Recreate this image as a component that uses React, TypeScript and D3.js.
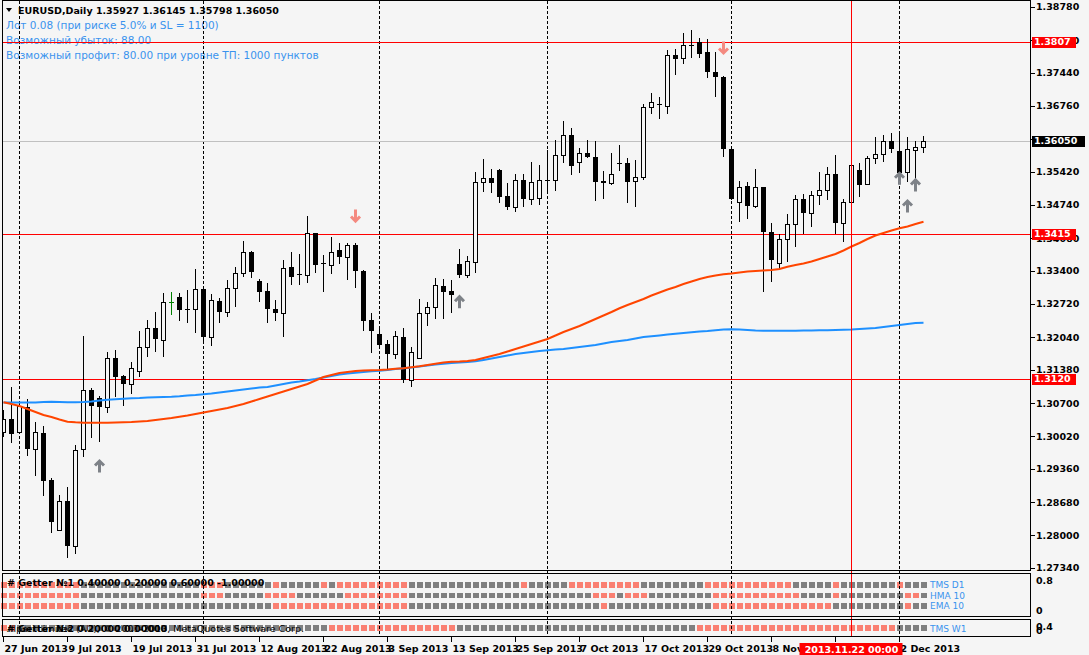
import React from "react";
import * as d3 from "d3";

// ---------- DATA ----------
const firstDay = new Date(2013, 5, 27);
const lastDay = new Date(2013, 11, 6);

const open = [
  1.30104, 1.30369, 1.30104, 1.30614, 1.29769, 1.3009, 1.29131, 1.28105, 1.28696, 1.27791,
  1.29757, 1.30961, 1.30797, 1.30614, 1.31613, 1.31252, 1.31083, 1.31348, 1.31838, 1.32226,
  1.31981, 1.32756, 1.32858, 1.32623, 1.32613, 1.33021, 1.32054, 1.32782, 1.32564, 1.33042,
  1.33348, 1.33788, 1.3319, 1.32986, 1.32619, 1.32531, 1.3347, 1.33327, 1.33319, 1.34163,
  1.33558, 1.33523, 1.33823, 1.33674, 1.33919, 1.33401, 1.32395, 1.32103, 1.31905, 1.31695,
  1.32042, 1.31171, 1.31613, 1.32531, 1.32666, 1.33088, 1.32986, 1.33531, 1.33323, 1.33572,
  1.35204, 1.35285, 1.35455, 1.34924, 1.34706, 1.35245, 1.34869, 1.3489, 1.35251, 1.35245,
  1.35755, 1.36169, 1.35612, 1.35796, 1.35714, 1.3523, 1.35184, 1.35598, 1.35591, 1.35236,
  1.35318, 1.36734, 1.36809, 1.36767, 1.37801, 1.37746, 1.38005, 1.3806, 1.37856, 1.37448,
  1.37346, 1.35877, 1.34808, 1.35122, 1.34727, 1.35102, 1.3419, 1.33551, 1.34041, 1.34347,
  1.34857, 1.34571, 1.34939, 1.35041, 1.35367, 1.34367, 1.34796, 1.35449, 1.35163, 1.35693,
  1.35775, 1.3604, 1.35836, 1.35408, 1.35863, 1.35927,
];
const high = [
  1.30559, 1.31022, 1.30702, 1.30777, 1.3032, 1.30232, 1.29178, 1.28825, 1.28982, 1.29845,
  1.32068, 1.31002, 1.30844, 1.31736, 1.31783, 1.31267, 1.31532, 1.3217, 1.32395, 1.32558,
  1.32946, 1.3296, 1.32946, 1.33007, 1.33429, 1.33048, 1.32919, 1.32844, 1.33211, 1.33482,
  1.34006, 1.33809, 1.33231, 1.33143, 1.32803, 1.33619, 1.33788, 1.33735, 1.34516, 1.34176,
  1.33721, 1.34082, 1.33972, 1.33972, 1.3396, 1.33415, 1.32531, 1.32258, 1.31987, 1.32177,
  1.32232, 1.3185, 1.32817, 1.32768, 1.33252, 1.33231, 1.33211, 1.33837, 1.337, 1.35408,
  1.35673, 1.35469, 1.35469, 1.35184, 1.35373, 1.35373, 1.35624, 1.35557, 1.35863, 1.36067,
  1.36448, 1.36305, 1.35897, 1.36061, 1.36046, 1.35441, 1.35796, 1.35965, 1.35693, 1.35659,
  1.36795, 1.3702, 1.3695, 1.37903, 1.37917, 1.38244, 1.38311, 1.38154, 1.38127, 1.37852,
  1.37372, 1.35897, 1.35224, 1.3521, 1.35475, 1.35108, 1.3438, 1.34143, 1.34557, 1.34945,
  1.34959, 1.35026, 1.35408, 1.35522, 1.35761, 1.34869, 1.35567, 1.35591, 1.35747, 1.36134,
  1.36169, 1.36204, 1.36183, 1.36122, 1.3604, 1.36145,
];
const low = [
  1.30014, 1.29892, 1.3009, 1.2962, 1.29212, 1.28804, 1.28056, 1.2809, 1.27546, 1.27627,
  1.29606, 1.29982, 1.29912, 1.30504, 1.30818, 1.30647, 1.30879, 1.31238, 1.31634, 1.31748,
  1.31646, 1.32503, 1.32381, 1.3234, 1.32124, 1.31952, 1.31871, 1.32328, 1.3245, 1.32654,
  1.33266, 1.33258, 1.32756, 1.32328, 1.32381, 1.32042, 1.33103, 1.33103, 1.33143, 1.33348,
  1.32972, 1.33333, 1.33537, 1.33211, 1.33042, 1.32177, 1.31728, 1.31817, 1.31375, 1.31605,
  1.31116, 1.31034, 1.31599, 1.32272, 1.32421, 1.32421, 1.32531, 1.33252, 1.33245, 1.3336,
  1.35, 1.3498, 1.34776, 1.34639, 1.34604, 1.34706, 1.34741, 1.34741, 1.35026, 1.35026,
  1.35604, 1.35353, 1.354, 1.357, 1.34829, 1.34857, 1.35149, 1.35441, 1.34776, 1.34706,
  1.35251, 1.36591, 1.36489, 1.36597, 1.37393, 1.37617, 1.37733, 1.37733, 1.37338, 1.3695,
  1.35726, 1.34843, 1.344, 1.34455, 1.34673, 1.3296, 1.33164, 1.33429, 1.33584, 1.3389,
  1.34155, 1.34298, 1.34741, 1.34843, 1.34155, 1.3398, 1.34604, 1.34898, 1.35149, 1.35571,
  1.35624, 1.35796, 1.35184, 1.35216, 1.35251, 1.35798,
];
const close = [
  1.30369, 1.30063, 1.3064, 1.29769, 1.30104, 1.29117, 1.2828, 1.28696, 1.27791, 1.29737,
  1.30961, 1.30647, 1.30614, 1.31613, 1.31238, 1.31083, 1.3141, 1.31838, 1.32226, 1.32001,
  1.32756, 1.32756, 1.32605, 1.32607, 1.33021, 1.32054, 1.32803, 1.32564, 1.33042, 1.33348,
  1.33788, 1.33374, 1.32972, 1.32613, 1.32531, 1.33449, 1.33266, 1.33311, 1.34163, 1.33523,
  1.33541, 1.33776, 1.33674, 1.33919, 1.33388, 1.32381, 1.32177, 1.31891, 1.31695, 1.32062,
  1.31171, 1.31748, 1.32531, 1.32654, 1.33103, 1.32966, 1.32905, 1.33313, 1.33592, 1.35204,
  1.35285, 1.35196, 1.3491, 1.34706, 1.35245, 1.34869, 1.3521, 1.35245, 1.35235, 1.35761,
  1.36169, 1.35543, 1.35796, 1.35714, 1.35216, 1.35184, 1.35373, 1.35581, 1.35216, 1.35318,
  1.36734, 1.36836, 1.36793, 1.37801, 1.37725, 1.38005, 1.37993, 1.37827, 1.37448, 1.37342,
  1.35877, 1.34857, 1.35114, 1.34727, 1.35102, 1.34184, 1.33625, 1.34041, 1.34347, 1.34857,
  1.34571, 1.34939, 1.35041, 1.35367, 1.34367, 1.34796, 1.35551, 1.35143, 1.35693, 1.35775,
  1.3604, 1.35889, 1.354, 1.35877, 1.35918, 1.3605,
];
const maSlow = [
  1.30716, 1.30681, 1.3064, 1.30579, 1.30518, 1.30457, 1.30416, 1.30365, 1.3032, 1.30308,
  1.303, 1.303, 1.303, 1.303, 1.30304, 1.30308, 1.30314, 1.30324, 1.30334, 1.30355,
  1.30375, 1.30396, 1.30422, 1.30447, 1.30477, 1.30508, 1.30538, 1.30569, 1.306, 1.3064,
  1.30681, 1.30732, 1.30783, 1.30834, 1.30885, 1.30936, 1.30987, 1.31038, 1.31089, 1.31161,
  1.31232, 1.31273, 1.31314, 1.31334, 1.31354, 1.31365, 1.31369, 1.31375, 1.31385, 1.31399,
  1.31409, 1.3143, 1.3145, 1.31477, 1.31503, 1.31528, 1.31544, 1.31548, 1.31558, 1.31579,
  1.3162, 1.3166, 1.31701, 1.31752, 1.31803, 1.31854, 1.31905, 1.31956, 1.32007, 1.32079,
  1.3215, 1.32211, 1.32272, 1.32344, 1.32415, 1.32487, 1.32558, 1.32634, 1.32701, 1.32762,
  1.32823, 1.32895, 1.32956, 1.33017, 1.33068, 1.33129, 1.3318, 1.33231, 1.33272, 1.33303,
  1.33327, 1.33343, 1.33364, 1.33384, 1.33394, 1.33405, 1.33415, 1.33435, 1.33482, 1.33517,
  1.33547, 1.33588, 1.33639, 1.3369, 1.33741, 1.33813, 1.33894, 1.33966, 1.34047, 1.34119,
  1.3417, 1.34221, 1.34266, 1.34302, 1.34353, 1.344,
];
const maLong = [
  1.30712, 1.30712, 1.30712, 1.30712, 1.30712, 1.30722, 1.30728, 1.30722, 1.30716, 1.30716,
  1.30722, 1.30732, 1.30753, 1.30769, 1.30777, 1.30787, 1.30798, 1.30804, 1.30814, 1.3082,
  1.30824, 1.3083, 1.3084, 1.30855, 1.30865, 1.30879, 1.30895, 1.30916, 1.30936, 1.30957,
  1.30977, 1.30997, 1.31018, 1.31028, 1.31059, 1.31089, 1.3112, 1.3114, 1.31165, 1.31191,
  1.31222, 1.31252, 1.31283, 1.31303, 1.31318, 1.31334, 1.31348, 1.31361, 1.31375, 1.31395,
  1.3141, 1.31426, 1.31446, 1.31467, 1.31487, 1.31503, 1.31518, 1.31528, 1.31538, 1.31552,
  1.31579, 1.31609, 1.3164, 1.31671, 1.31701, 1.31722, 1.31742, 1.31762, 1.31777, 1.31793,
  1.31803, 1.31824, 1.31844, 1.31864, 1.31885, 1.31915, 1.31946, 1.31966, 1.31987, 1.32017,
  1.32048, 1.32062, 1.32079, 1.32099, 1.32115, 1.3213, 1.32144, 1.3216, 1.3217, 1.32185,
  1.32201, 1.32205, 1.32201, 1.32191, 1.32181, 1.32177, 1.32177, 1.32177, 1.32177, 1.32177,
  1.32181, 1.32181, 1.32185, 1.32185, 1.32191, 1.32197, 1.32201, 1.32211, 1.32221, 1.32232,
  1.32252, 1.32272, 1.32293, 1.32313, 1.32334, 1.3234,
];

const priceTicks = [
  1.3878, 1.381, 1.3744, 1.3676, 1.3608, 1.3542, 1.3474, 1.3406, 1.334,
  1.3272, 1.3204, 1.3138, 1.307, 1.3002, 1.2936, 1.2868, 1.28, 1.2734,
];
const levelLines = [1.3807, 1.3415, 1.312];
const bidPrice = 1.3605;
const crossBar = 106;
const dateTickStep = 8;

const upArrowBars = [12, 57, 112, 113, 114];
const upArrowPrices = [1.29416, 1.32768, 1.35286, 1.3472, 1.35149];
const downArrowBars = [44, 90];
const downArrowPrices = [1.34516, 1.37944];

// run-length signals: [count, 1 = up (salmon) / 0 = down (grey)]
const tmsD1Runs = [[10, 1], [15, 0], [3, 1], [6, 0], [1, 1], [5, 0], [1, 1], [1, 0], [9, 1], [14, 0], [1, 1], [5, 0], [9, 1], [8, 0], [11, 1], [5, 0], [1, 1], [7, 0], [1, 1], [3, 0]];
const hma10Runs = [[10, 1], [15, 0], [3, 1], [5, 0], [4, 1], [6, 0], [8, 1], [23, 0], [3, 1], [1, 0], [3, 1], [8, 0], [11, 1], [4, 0], [1, 1], [8, 0], [2, 1], [1, 0]];
const ema10Runs = [[10, 1], [24, 0], [17, 1], [24, 0], [1, 1], [13, 0], [15, 1], [9, 0], [1, 1], [2, 0]];
const tmsW1Runs = [[2, 1], [39, 0], [16, 1], [30, 0], [25, 1], [4, 0]];
const panel1Names = ["TMS D1", "HMA 10", "EMA 10"];
const panel2Names = ["TMS W1"];

const headerText = "EURUSD,Daily  1.35927 1.36145 1.35798 1.36050";
const infoLines = [
  "Лот 0.08 (при риске 5.0% и SL = 1100)",
  "Возможный убыток: 88.00",
  "Возможный профит: 80.00 при уровне ТП: 1000 пунктов",
];
const panel1Title = "# Getter №1 0.40000 0.20000 0.60000 -1.00000";
const panel2Title = "# Getter №2 0.20000 0.00000";
const copyrightText = "Alpari Limited (AU), © 2001-2013, MetaQuotes Software Corp.";
const panel1Scale = ["0.8", "0"];
const panel2Scale = ["0.4", "0"];

// ---------- LAYOUT ----------
const W = 1089;
const H = 655;
const L = 2.5;
const R = 1030.5;
const BG = "#F5F5F5";
const SALMON = "#FA8072";
const GREY = "#808080";
const BLUE_TXT = "#3A93EE";
const FONT = "'DejaVu Sans', Verdana, sans-serif";

const expand = (runs: number[][]) => runs.flatMap(([n, v]) => Array(n).fill(v));

export default function App() {
  const days = d3.timeDay
    .range(firstDay, lastDay)
    .filter((d) => d.getDay() !== 0 && d.getDay() !== 6);
  const n = open.length;
  const x = d3.scaleLinear().domain([0, n - 1]).range([3.5, 3.5 + 8 * (n - 1)]);
  const y = d3.scaleLinear().domain([1.2734, 1.3878]).range([567.8, 7.0]);

  const fmtTick = d3.timeFormat("%-d %b %Y");
  const fmtCross = d3.timeFormat("%Y.%m.%d %H:%M");
  const fmt5 = d3.format(".5f");
  const fmt4 = d3.format(".4f");

  const monthStarts = days
    .map((d, i) => (i > 0 && d.getMonth() !== days[i - 1].getMonth() ? i : -1))
    .filter((i) => i >= 0);

  const line = (vals: number[]) =>
    d3.line<number>().x((_, i) => x(i)).y((v) => y(v))(vals) || "";

  const rows1 = [tmsD1Runs, hma10Runs, ema10Runs].map(expand);
  const rows2 = [tmsW1Runs].map(expand);
  const rows1Y = [582, 592.5, 603];
  const rows2Y = [625];

  const upPath = (cx: number, cy: number) =>
    `M${cx - 4.5},${cy - 0.5} L${cx},${cy - 5} L${cx + 4.5},${cy - 0.5} M${cx},${cy - 4} L${cx},${cy + 6.5}`;
  const downPath = (cx: number, cy: number) =>
    `M${cx - 4.5},${cy + 0.5} L${cx},${cy + 5} L${cx + 4.5},${cy + 0.5} M${cx},${cy + 4} L${cx},${cy - 6.5}`;

  const tickIdx = d3.range(0, n, dateTickStep);

  return (
    <svg
      width={W}
      height={H}
      style={{ position: "absolute", left: 0, top: 0, display: "block", fontFamily: FONT }}
    >
      <defs>
        <clipPath id="clipMain">
          <rect x={3} y={1} width={R - 3} height={569} />
        </clipPath>
      </defs>
      <rect x={0} y={0} width={W} height={H} fill={BG} />

      {/* info texts */}
      <g fontSize={10.5} fill={BLUE_TXT}>
        {infoLines.map((t, i) => (
          <text key={i} x={6} y={28.5 + i * 15}>
            {t}
          </text>
        ))}
      </g>

      {/* panel squares */}
      {rows1.map((row, r) =>
        row.map((v, i) => (
          <rect
            key={`p1-${r}-${i}`}
            x={x(i) - 2.5}
            y={rows1Y[r]}
            width={6}
            height={5.5}
            fill={v ? SALMON : GREY}
            shapeRendering="crispEdges"
          />
        ))
      )}
      {rows2.map((row, r) =>
        row.map((v, i) => (
          <rect
            key={`p2-${r}-${i}`}
            x={x(i) - 2.5}
            y={rows2Y[r]}
            width={6}
            height={5.5}
            fill={v ? SALMON : GREY}
            shapeRendering="crispEdges"
          />
        ))
      )}
      <g fontSize={9} fill={BLUE_TXT}>
        {panel1Names.map((t, i) => (
          <text key={t} x={930} y={rows1Y[i] + 6}>
            {t}
          </text>
        ))}
        {panel2Names.map((t, i) => (
          <text key={t} x={930} y={rows2Y[i] + 6.5}>
            {t}
          </text>
        ))}
      </g>
      <text x={7} y={586} fontSize={9.5} fontWeight="bold" fill="#000">
        {panel1Title}
      </text>
      <text x={7} y={632} fontSize={9.5} fill="#000">
        {copyrightText}
      </text>
      <text x={7} y={632} fontSize={9.5} fontWeight="bold" fill="#000">
        {panel2Title}
      </text>

      {/* month separators */}
      {monthStarts.map((i) => (
        <line
          key={`sep${i}`}
          x1={x(i)}
          x2={x(i)}
          y1={1}
          y2={637}
          stroke="#000"
          strokeDasharray="3,2"
          shapeRendering="crispEdges"
        />
      ))}

      {/* horizontal levels */}
      <line
        x1={L}
        x2={R}
        y1={Math.round(y(bidPrice)) + 0.5}
        y2={Math.round(y(bidPrice)) + 0.5}
        stroke="#C0C0C0"
        shapeRendering="crispEdges"
      />
      {levelLines.map((p) => (
        <line
          key={p}
          x1={L}
          x2={R}
          y1={Math.round(y(p)) + 0.5}
          y2={Math.round(y(p)) + 0.5}
          stroke="#FF0000"
          shapeRendering="crispEdges"
        />
      ))}

      {/* candles */}
      <g clipPath="url(#clipMain)">
        {open.map((o, i) => {
          const c = close[i];
          const cx = x(i);
          const doji = o === c;
          const col = doji ? "#008000" : "#000";
          const top = Math.round(y(Math.max(o, c)));
          const bot = Math.round(y(Math.min(o, c)));
          return (
            <g key={`c${i}`} shapeRendering="crispEdges">
              <line x1={cx} x2={cx} y1={y(high[i])} y2={y(low[i])} stroke={col} />
              {doji ? (
                <line x1={cx - 2.5} x2={cx + 2.5} y1={top + 0.5} y2={top + 0.5} stroke={col} />
              ) : c > o ? (
                <rect x={cx - 2} y={top + 0.5} width={4} height={Math.max(1, bot - top)} fill={BG} stroke="#000" />
              ) : (
                <rect x={cx - 2.5} y={top} width={5} height={Math.max(1, bot - top)} fill="#000" />
              )}
            </g>
          );
        })}

        {/* moving averages */}
        <path d={line(maLong)} fill="none" stroke="#1E90FF" strokeWidth={2} />
        <path d={line(maSlow)} fill="none" stroke="#FF4500" strokeWidth={2} />

        {/* arrows */}
        {upArrowBars.map((b, i) => (
          <path key={`u${i}`} d={upPath(x(b), y(upArrowPrices[i]))} fill="none" stroke="#7E8288" strokeWidth={3} />
        ))}
        {downArrowBars.map((b, i) => (
          <path key={`d${i}`} d={downPath(x(b), y(downArrowPrices[i]))} fill="none" stroke="#F48A80" strokeWidth={3} />
        ))}
      </g>

      {/* crosshair vertical */}
      <line x1={x(crossBar)} x2={x(crossBar)} y1={0} y2={637} stroke="#FF0000" shapeRendering="crispEdges" />

      {/* frames */}
      <g fill="none" stroke="#000" shapeRendering="crispEdges">
        <rect x={L} y={0.5} width={R - L} height={570} />
        <rect x={L} y={573.5} width={R - L} height={43} />
        <rect x={L} y={619.5} width={R - L} height={17} />
      </g>

      {/* header */}
      <path d="M6,8 L12,8 L9,12 Z" fill="#000" />
      <text x={18} y={14} fontSize={9.5} fontWeight="bold" fill="#000">
        {headerText}
      </text>

      {/* right price axis */}
      <g fontSize={9.5} fontWeight="bold" fill="#000">
        {priceTicks.map((p) => (
          <g key={p}>
            <line x1={R} x2={R + 4} y1={Math.round(y(p)) + 0.5} y2={Math.round(y(p)) + 0.5} stroke="#000" shapeRendering="crispEdges" />
            <text x={1036} y={y(p)} dy="0.36em">
              {fmt5(p)}
            </text>
          </g>
        ))}
      </g>
      {levelLines.map((p) => (
        <g key={`lb${p}`}>
          <rect x={1032} y={Math.round(y(p)) - 5} width={44} height={11} fill="#FF0000" />
          <text x={1034} y={y(p)} dy="0.36em" fontSize={9.5} fontWeight="bold" fill="#fff">
            {fmt4(p)}
          </text>
        </g>
      ))}
      <rect x={1032} y={Math.round(y(bidPrice)) - 5} width={53} height={11} fill="#000" />
      <text x={1034} y={y(bidPrice)} dy="0.36em" fontSize={9.5} fontWeight="bold" fill="#fff">
        {fmt5(bidPrice)}
      </text>

      {/* indicator scales */}
      <g fontSize={9.5} fontWeight="bold" fill="#000">
        <text x={1036} y={583.5}>{panel1Scale[0]}</text>
        <text x={1036} y={614}>{panel1Scale[1]}</text>
        <text x={1036} y={629.5}>{panel2Scale[0]}</text>
        <text x={1036} y={633.5}>{panel2Scale[1]}</text>
      </g>

      {/* time axis */}
      <g fontSize={9.5} fontWeight="bold" fill="#000">
        {tickIdx.map((i) => (
          <g key={`t${i}`}>
            <line x1={x(i)} x2={x(i)} y1={637} y2={642} stroke="#000" shapeRendering="crispEdges" />
            <text x={x(i) + 1} y={652}>
              {fmtTick(days[i])}
            </text>
          </g>
        ))}
      </g>
      <rect x={x(crossBar) - 52} y={643} width={103} height={12} fill="#FF0000" />
      <text x={x(crossBar)} y={652.5} textAnchor="middle" fontSize={9.5} fontWeight="bold" fill="#fff">
        {fmtCross(days[crossBar])}
      </text>
    </svg>
  );
}
